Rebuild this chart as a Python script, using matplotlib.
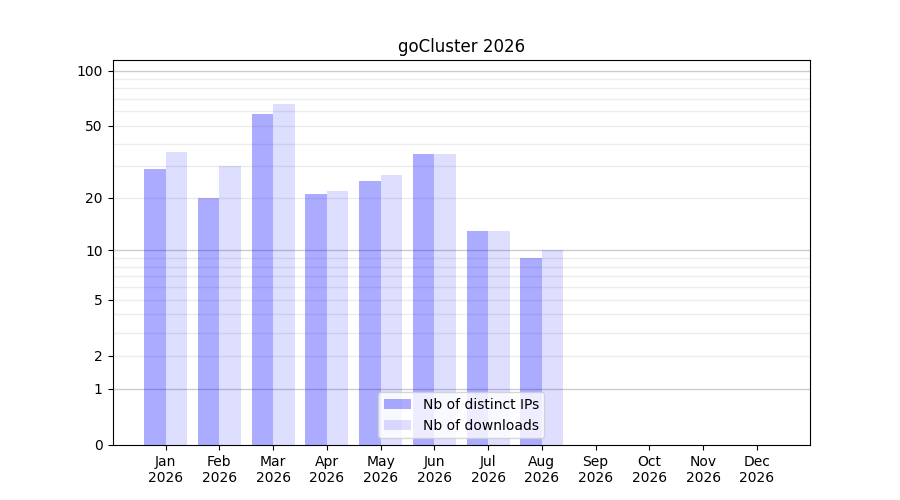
import numpy as np
import matplotlib
matplotlib.use("Agg")
import matplotlib.pyplot as plt

months = ["Jan", "Feb", "Mar", "Apr", "May", "Jun", "Jul", "Aug", "Sep", "Oct", "Nov", "Dec"]
year = "2026"
distinct_ips = [29, 20, 58, 21, 25, 35, 13, 9, 0, 0, 0, 0]
downloads = [36, 30, 66, 22, 27, 35, 13, 10, 0, 0, 0, 0]
ytick_values = [0, 1, 2, 5, 10, 20, 50, 100]
major_grid = [1, 10, 100]
minor_grid = [2, 3, 4, 5, 6, 7, 8, 9, 20, 30, 40, 50, 60, 70, 80, 90]

fig, ax = plt.subplots(figsize=(9, 5), dpi=100)
ax.set_yscale("function", functions=(lambda v: np.log10(1 + np.clip(v, 0, None)),
                                      lambda t: 10 ** t - 1))

x = np.arange(len(months))
w = 0.4
ax.bar(x - w / 2, distinct_ips, width=w, color="blue", alpha=0.33, linewidth=0,
       label="Nb of distinct IPs")
ax.bar(x + w / 2, downloads, width=w, color="blue", alpha=0.13, linewidth=0,
       label="Nb of downloads")

for g in minor_grid:
    ax.axhline(g, color="gray", alpha=0.15, lw=1, zorder=0)
for g in major_grid:
    ax.axhline(g, color="gray", alpha=0.4, lw=1, zorder=0)

ax.set_ylim(0, 114)
ax.set_yticks(ytick_values)
ax.set_yticklabels([str(v) for v in ytick_values])
ax.minorticks_off()
ax.set_xticks(x)
ax.set_xticklabels([f"{m}\n{year}" for m in months])
ax.set_title("goCluster 2026")
ax.legend(loc="lower center")

fig.savefig("out.png", dpi=100)
